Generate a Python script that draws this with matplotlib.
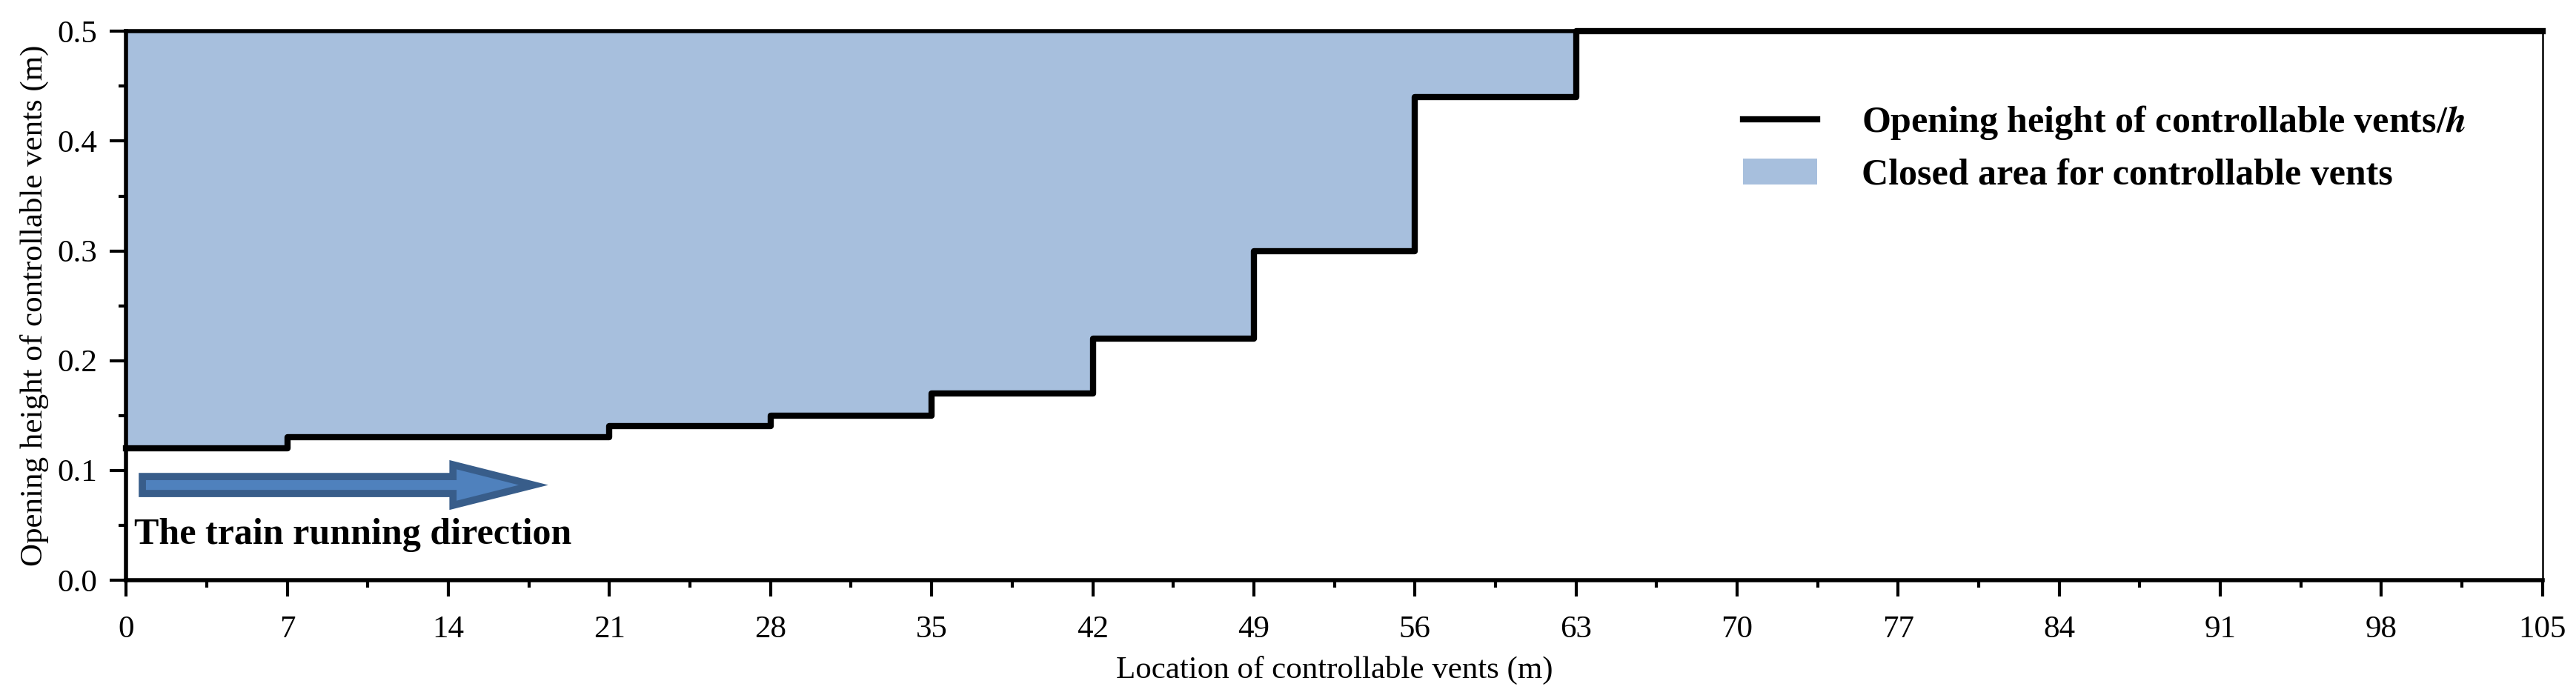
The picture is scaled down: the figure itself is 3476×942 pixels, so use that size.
import matplotlib
matplotlib.use("Agg")
import matplotlib.pyplot as plt
from matplotlib.patches import FancyArrow
from matplotlib.ticker import MultipleLocator

plt.rcParams['font.family'] = ['Liberation Serif', 'DejaVu Serif']
plt.rcParams['mathtext.fontset'] = 'stix'

# step profile: opening height starts at each location and holds until the next
vent_location = [0, 7, 14, 21, 28, 35, 42, 49, 56, 63, 105]
opening_height = [0.12, 0.13, 0.13, 0.14, 0.15, 0.17, 0.22, 0.30, 0.44, 0.50, 0.50]
x_ticks = [0, 7, 14, 21, 28, 35, 42, 49, 56, 63, 70, 77, 84, 91, 98, 105]
y_ticks = [0.0, 0.1, 0.2, 0.3, 0.4, 0.5]

fill_color = '#A7BFDD'
fs = 31
fs_bold = 36

fig = plt.figure(figsize=(34.76, 9.42), dpi=100)
ax = fig.add_axes([0.049, 0.169, 0.938, 0.786])

ax.fill_between(vent_location, opening_height, 0.5, step='post',
                color=fill_color, lw=0, zorder=1,
                label='Closed area for controllable vents')
ax.step(vent_location, opening_height, where='post', color='black', lw=6,
        zorder=3, clip_on=False,
        label='Opening height of controllable vents/$\\mathbfit{h}$')

# direction arrow
arrow = FancyArrow(0.7, 0.0866, 17.0, 0, width=0.0155, head_width=0.037,
                   head_length=3.5, length_includes_head=True,
                   fc='#4F81BD', ec='#385D8A', lw=7, zorder=4)
ax.add_patch(arrow)
ax.text(0.35, 0.041, 'The train running direction', fontsize=fs_bold,
        fontweight='bold', ha='left', va='center', zorder=5)

ax.set_xlim(0, 105)
ax.set_ylim(0, 0.5)
ax.set_xticks(x_ticks)
ax.set_yticks(y_ticks)
ax.set_yticklabels([f'{v:.1f}' for v in y_ticks])
ax.xaxis.set_minor_locator(MultipleLocator(3.5))
ax.yaxis.set_minor_locator(MultipleLocator(0.05))
ax.tick_params(which='major', direction='out', length=16, width=3,
               labelsize=fs)
ax.tick_params(axis='x', which='major', pad=18)
ax.tick_params(axis='y', which='major', pad=12)
ax.tick_params(which='minor', direction='out', length=7.5, width=3)
ax.tick_params(top=False, right=False)

for side in ['left', 'bottom', 'top']:
    ax.spines[side].set_linewidth(4)
ax.spines['right'].set_linewidth(1.8)

ax.set_xlabel('Location of controllable vents (m)', fontsize=fs, labelpad=12)
ax.set_ylabel('Opening height of controllable vents (m)', fontsize=fs, labelpad=8)

handles, labels = ax.get_legend_handles_labels()
ax.legend(handles[::-1], labels[::-1], loc='upper left',
          bbox_to_anchor=(0.669, 0.868), frameon=False,
          prop={'weight': 'bold', 'size': fs_bold}, handlelength=2.0,
          handletextpad=1.2, labelspacing=0.45, borderaxespad=0, borderpad=0)

fig.savefig('out.png', dpi=100)
